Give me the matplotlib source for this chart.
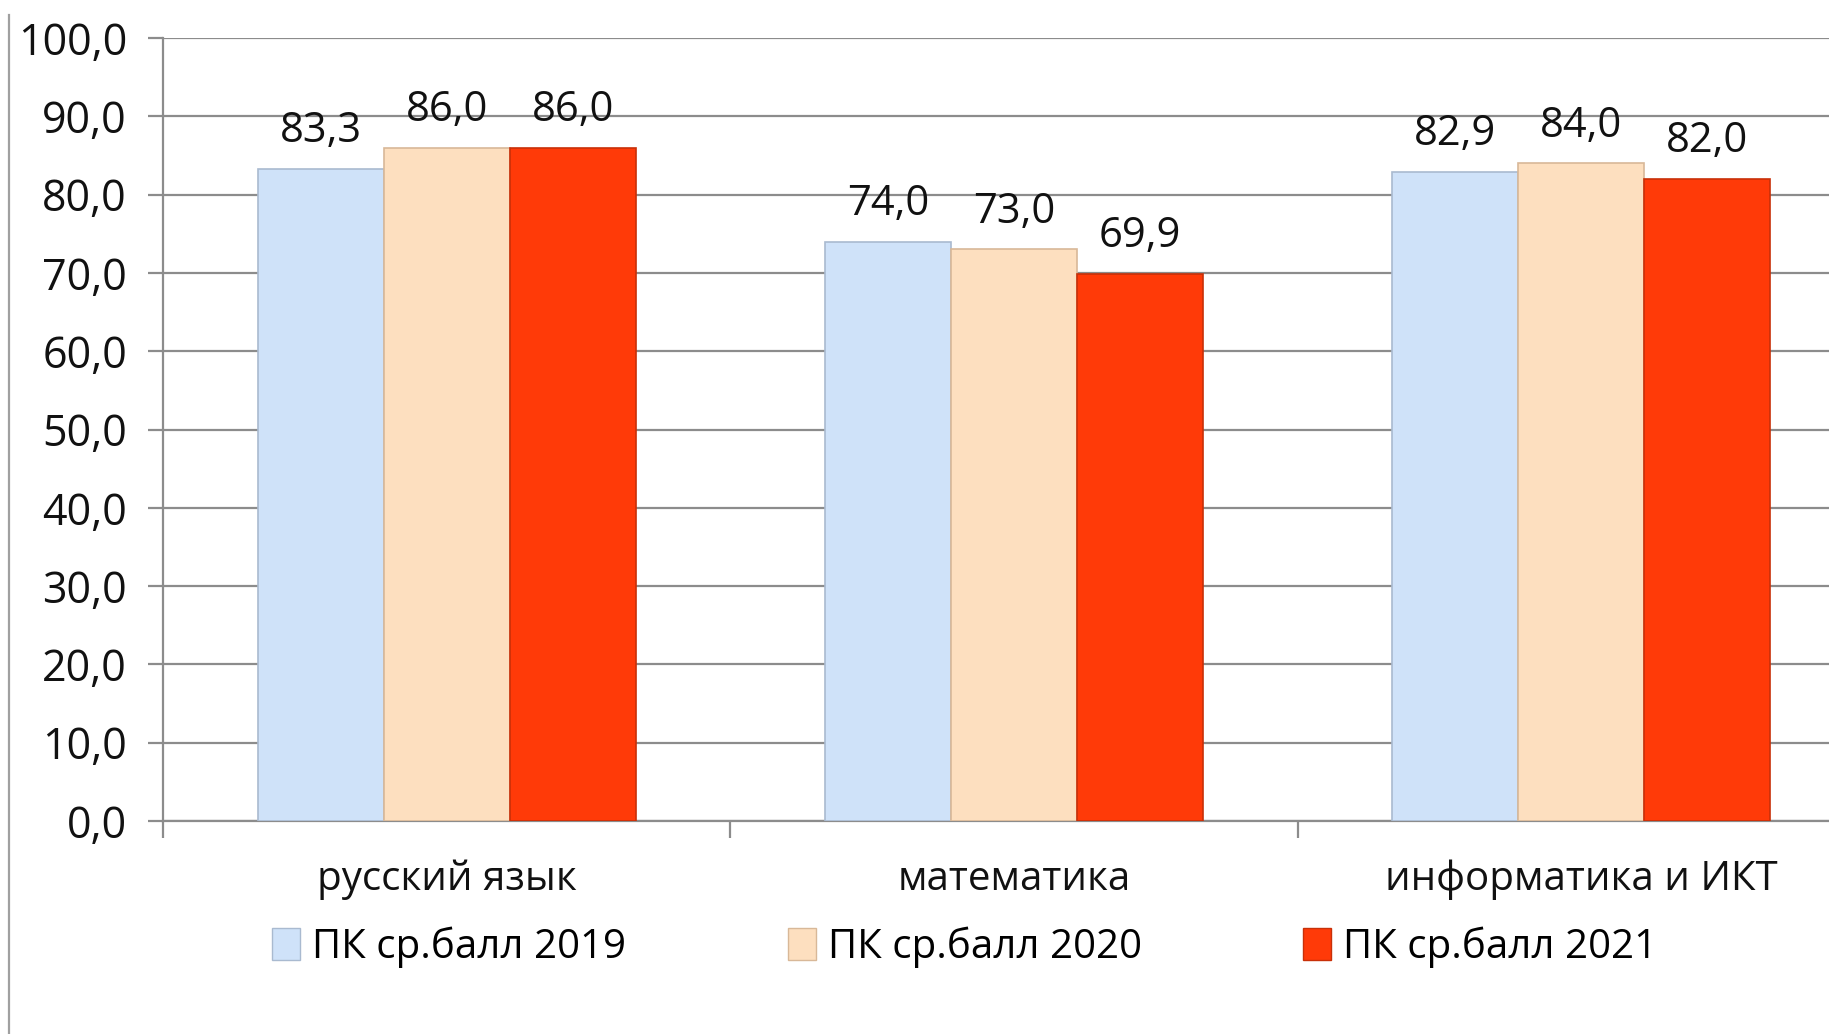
import matplotlib
matplotlib.use("Agg")
import matplotlib.pyplot as plt
from matplotlib.patches import Patch
from matplotlib.lines import Line2D
import numpy as np

categories = ["русский язык", "математика", "информатика и ИКТ"]
series_names = ["ПК ср.балл 2019", "ПК ср.балл 2020", "ПК ср.балл 2021"]
values_2019 = [83.3, 74.0, 82.9]
values_2020 = [86.0, 73.0, 84.0]
values_2021 = [86.0, 69.9, 82.0]
yticks = [0, 10, 20, 30, 40, 50, 60, 70, 80, 90, 100]

series = [values_2019, values_2020, values_2021]
colors = ["#CFE2F9", "#FDDFBF", "#FF3A08"]
edges = ["#A9BAD0", "#D8B898", "#C83008"]

plt.rcParams['font.family'] = ['Open Sans', 'DejaVu Sans']

fig = plt.figure(figsize=(18.29, 10.34), dpi=100)
ax = fig.add_axes([163/1829, 1 - 821/1034, (1865 - 163)/1829, (821 - 38)/1034])

x = np.arange(len(categories))
w = 0.222
for i, (vals, c, ec) in enumerate(zip(series, colors, edges)):
    pos = x + (i - 1) * w
    bars = ax.bar(pos, vals, width=w, color=c, edgecolor=ec, linewidth=1.2, zorder=3, label=series_names[i])
    for b, v in zip(bars, vals):
        ax.annotate(f"{v:.1f}".replace(".", ","), (b.get_x() + b.get_width()/2, v),
                    xytext=(0, 12), textcoords="offset points", ha="center", va="bottom",
                    fontsize=30, color="#111111")

ax.set_xlim(-0.5, 2.5)
ax.set_ylim(0, 100)
ax.set_yticks(yticks)
ax.set_yticklabels([f"{t:.1f}".replace(".", ",") for t in yticks], fontsize=31, color="#111111")
ax.yaxis.grid(True, color="#8C8C8C", linewidth=1.6, zorder=0)
ax.set_axisbelow(True)
ax.tick_params(axis="y", direction="out", length=11, width=1.6, color="#8C8C8C", pad=15)

ax.set_xticks([-0.5, 0.5, 1.5, 2.5])
ax.set_xticklabels([])
ax.set_xticks(x, minor=True)
ax.set_xticklabels(categories, minor=True, fontsize=29, color="#111111")
ax.tick_params(axis="x", which="major", direction="out", length=12, width=1.6, color="#8C8C8C")
ax.tick_params(axis="x", which="minor", length=0, pad=28)

for s in ["top", "right"]:
    ax.spines[s].set_visible(False)
for s in ["left", "bottom"]:
    ax.spines[s].set_color("#8C8C8C")
    ax.spines[s].set_linewidth(1.6)

handles = [Patch(facecolor=c, edgecolor=ec, linewidth=1.0) for c, ec in zip(colors, edges)]
leg = fig.legend(handles, series_names, loc="center", bbox_to_anchor=(0.5275, 1 - 947/1034),
                 ncol=3, frameon=False, handlelength=0.7, handleheight=0.85, handletextpad=0.3,
                 columnspacing=4.0, prop={'size': 29})

fig.add_artist(Line2D([9/1829, 9/1829], [0, 1 - 15/1034], transform=fig.transFigure,
                      color="#A0A0A0", linewidth=1.6))

fig.savefig("out.png", dpi=100)
